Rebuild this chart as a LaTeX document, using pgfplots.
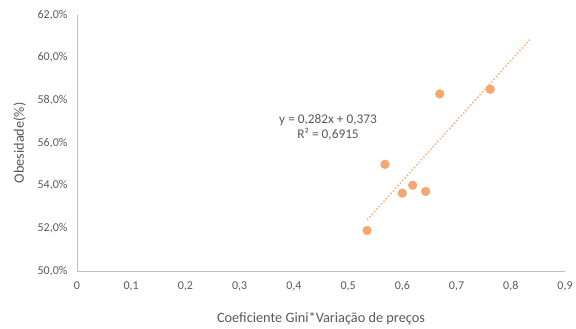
\documentclass[border=0pt]{standalone}
\usepackage{pgfplots}
\pgfplotsset{compat=1.18}
\usepackage{fontspec}
\setmainfont{Carlito}
\definecolor{pt}{HTML}{F4A76E}
\definecolor{tl}{HTML}{F4B183}
\definecolor{txt}{HTML}{595959}
\definecolor{ax}{HTML}{BFBFBF}
\begin{document}
\begin{tikzpicture}[x=1pt,y=1pt]
\begin{axis}[
  at={(0pt,0pt)}, anchor=origin,
  scale only axis, width=488pt, height=256pt,
  xmin=0, xmax=0.9, ymin=50, ymax=62,
  xtick={0,0.1,...,0.9}, ytick={50,52,...,62},
  axis x line*=bottom, axis y line*=left,
  axis line style={ax, line width=0.8pt, -},
  major tick length=0pt,
  tick label style={font=\fontsize{12}{13}\selectfont, text=txt},
  /pgf/number format/assume math mode=true,
  xticklabel={\pgfmathprintnumber[use comma]{\tick}},
  yticklabel={\pgfmathprintnumber[fixed,fixed zerofill,precision=1,use comma]{\tick}\%},
  xticklabel style={yshift=-7pt},
  yticklabel style={xshift=-6pt},
  xlabel={Coeficiente Gini*Variação de preços},
  ylabel={Obesidade(\%)},
  label style={font=\fontsize{14.3}{16}\selectfont, text=txt},
  xlabel style={at={(axis description cs:0.5,0)}, anchor=base, yshift=-52pt},
  ylabel style={at={(axis description cs:0,0.5)}, anchor=base, yshift=53pt},
  clip=false,
]
\addplot[tl, line width=1.5pt, dotted] coordinates {(0.535,52.39) (0.835,60.85)};
\addplot[only marks, color=pt, mark=*, mark size=4.4pt, mark options={fill=pt, draw=pt}] coordinates {
(0.535,51.9) (0.568,55.0) (0.600,53.65) (0.619,54.02) (0.643,53.73) (0.669,58.3) (0.762,58.52)};
\node[align=center, text=txt, font=\fontsize{13.3}{15}\selectfont] at (axis cs:0.463,56.75) {y = 0,282x + 0,373\\R² = 0,6915};
\end{axis}
\pgfresetboundingbox
\path[use as bounding box] (-77,-58) rectangle (499,271);
\end{tikzpicture}
\end{document}
